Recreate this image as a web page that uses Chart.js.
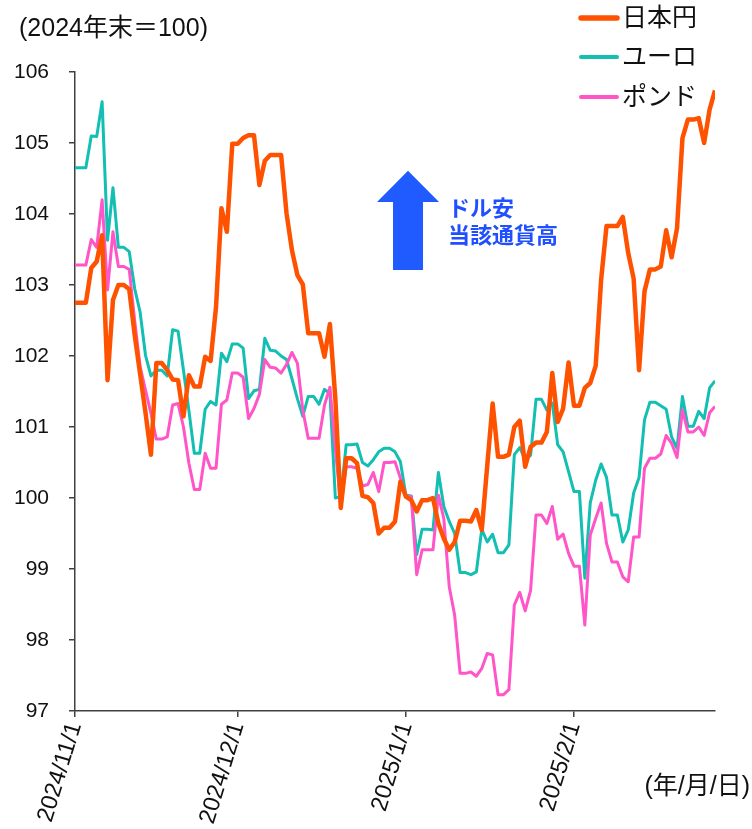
<!DOCTYPE html>
<html>
<head>
<meta charset="utf-8">
<script src="https://cdn.jsdelivr.net/npm/chart.js@4.4.1/dist/chart.umd.min.js"></script>
<style>
  html, body { margin: 0; padding: 0; background: #ffffff; }
  #wrap { width: 752px; height: 829px; position: relative; }
</style>
</head>
<body>
<div id="wrap"><canvas id="c" width="752" height="829"></canvas></div>
<script>
// Daily index values (2024 year-end = 100), one value per calendar day from 2024/11/1.
const startDate = '2024/11/1';
const tickDays = [0, 30, 61, 92];
const tickLabels = ['2024/11/1', '2024/12/1', '2025/1/1', '2025/2/1'];
const seriesNames = ['日本円', 'ユーロ', 'ポンド'];

const jpy = [
  102.75, 102.75, 102.75, 103.24, 103.33, 103.70, 101.66, 102.79, 103.00, 103.00,
  102.94, 102.30, 101.75, 101.20, 100.61, 101.90, 101.90, 101.80, 101.67, 101.66,
  101.15, 101.73, 101.57, 101.57, 101.99, 101.93, 102.69, 104.08, 103.75, 104.99,
  104.99, 105.07, 105.11, 105.11, 104.41, 104.75, 104.83, 104.83, 104.83, 104.01,
  103.49, 103.14, 103.01, 102.32, 102.32, 102.32, 101.99, 102.45, 101.40, 99.86,
  100.56, 100.56, 100.49, 100.03, 100.01, 99.93, 99.50, 99.58, 99.58, 99.67,
  100.23, 100.02, 99.97, 99.81, 99.97, 99.97, 100.00, 99.64, 99.43, 99.27,
  99.38, 99.68, 99.68, 99.67, 99.83, 99.55, 100.45, 101.33, 100.58, 100.58,
  100.61, 101.00, 101.09, 100.44, 100.72, 100.78, 100.78, 100.93, 101.76, 101.07,
  101.26, 101.91, 101.30, 101.30, 101.55, 101.62, 101.86, 103.07, 103.83, 103.83,
  103.83, 103.96, 103.45, 103.09, 101.80, 102.91, 103.22, 103.22, 103.26, 103.77,
  103.39, 103.80, 105.07, 105.33, 105.33, 105.35, 105.00, 105.47, 105.74
];

const eur = [
  104.65, 104.65, 104.65, 105.10, 105.09, 105.58, 103.63, 104.37, 103.53, 103.53,
  103.47, 102.95, 102.62, 102.01, 101.72, 101.80, 101.80, 101.72, 102.37, 102.35,
  101.80, 101.23, 100.63, 100.63, 101.25, 101.36, 101.31, 102.04, 101.92, 102.17,
  102.17, 102.11, 101.40, 101.51, 101.53, 102.25, 102.08, 102.07, 102.00, 101.95,
  101.68, 101.40, 101.15, 101.43, 101.43, 101.32, 101.53, 101.47, 100.00, 100.02,
  100.75, 100.75, 100.76, 100.50, 100.45, 100.54, 100.65, 100.70, 100.70, 100.65,
  100.51, 100.04, 100.03, 99.20, 99.56, 99.56, 99.55, 100.36, 99.88, 99.67,
  99.50, 98.95, 98.95, 98.92, 98.96, 99.56, 99.38, 99.49, 99.23, 99.23,
  99.34, 100.61, 100.71, 100.54, 100.60, 101.39, 101.39, 101.24, 101.34, 100.75,
  100.65, 100.37, 100.09, 100.09, 98.87, 99.93, 100.25, 100.48, 100.29, 99.76,
  99.76, 99.38, 99.55, 100.07, 100.29, 101.10, 101.35, 101.35, 101.30, 101.25,
  100.86, 100.70, 101.43, 101.01, 101.01, 101.22, 101.12, 101.55, 101.65
];

const gbp = [
  103.28, 103.28, 103.28, 103.64, 103.53, 104.20, 102.93, 103.75, 103.26, 103.26,
  103.22, 102.50, 101.85, 101.52, 101.19, 100.83, 100.83, 100.86, 101.31, 101.33,
  101.00, 100.49, 100.12, 100.12, 100.63, 100.42, 100.42, 101.32, 101.38, 101.76,
  101.76, 101.70, 101.12, 101.26, 101.46, 101.95, 101.84, 101.83, 101.76, 101.88,
  102.05, 101.90, 101.24, 100.84, 100.84, 100.84, 101.31, 101.56, 100.70, 99.90,
  100.44, 100.44, 100.42, 100.17, 100.19, 100.36, 100.09, 100.50, 100.50, 100.51,
  100.28, 100.02, 100.02, 98.92, 99.27, 99.27, 99.27, 100.04, 99.71, 98.75,
  98.35, 97.53, 97.53, 97.55, 97.49, 97.60, 97.81, 97.79, 97.23, 97.23,
  97.30, 98.49, 98.67, 98.41, 98.70, 99.76, 99.76, 99.64, 99.88, 99.42,
  99.49, 99.22, 99.04, 99.04, 98.21, 99.48, 99.71, 99.93, 99.36, 99.10,
  99.10, 98.89, 98.82, 99.45, 99.45, 100.42, 100.56, 100.56, 100.62, 100.88,
  100.77, 100.57, 101.24, 100.93, 100.93, 101.00, 100.88, 101.20, 101.29
];

const FONT = '"Liberation Sans", "Noto Sans CJK JP", sans-serif';
const AXIS_COLOR = '#404040';
const colors = ['#FF5200', '#12BFB2', '#FF55C8'];
const widths = [4.5, 3, 3];

const toPoints = arr => arr.map((v, i) => ({ x: i, y: v }));

// Title, unit label, legend and the "dollar weaker" arrow note
const decorations = {
  id: 'decorations',
  afterDraw(chart) {
    const ctx = chart.ctx;
    const xs = chart.scales.x, ys = chart.scales.y;
    ctx.save();

    ctx.fillStyle = '#111';
    ctx.textBaseline = 'middle';
    ctx.textAlign = 'left';
    ctx.font = '25px ' + FONT;
    ctx.fillText('(2024年末＝100)', 19, 29);

    ctx.textAlign = 'right';
    ctx.font = '25px ' + FONT;
    ctx.fillText('(年/月/日)', 750, 787);

    // legend
    const legY = [18, 57, 97];
    ctx.textAlign = 'left';
    ctx.font = '25px ' + FONT;
    chart.data.datasets.forEach((ds, i) => {
      ctx.strokeStyle = ds.borderColor;
      ctx.lineWidth = ds.borderWidth + 1;
      ctx.lineCap = 'round';
      ctx.beginPath();
      ctx.moveTo(581, legY[i]);
      ctx.lineTo(617, legY[i]);
      ctx.stroke();
      ctx.fillStyle = '#111';
      ctx.fillText(ds.label, 622, legY[i] + 1);
    });

    // arrow
    const cx = xs.getPixelForValue(61.4);
    const tip = ys.getPixelForValue(104.61);
    const base = ys.getPixelForValue(104.17);
    const bottom = ys.getPixelForValue(103.21);
    ctx.fillStyle = '#1F5BFF';
    ctx.beginPath();
    ctx.moveTo(cx, tip);
    ctx.lineTo(cx + 31, base);
    ctx.lineTo(cx + 15, base);
    ctx.lineTo(cx + 15, bottom);
    ctx.lineTo(cx - 15, bottom);
    ctx.lineTo(cx - 15, base);
    ctx.lineTo(cx - 31, base);
    ctx.closePath();
    ctx.fill();

    ctx.fillStyle = '#1F4FFF';
    ctx.font = 'bold 22px ' + FONT;
    ctx.textAlign = 'left';
    ctx.fillText('ドル安', cx + 40, tip + 39);
    ctx.fillText('当該通貨高', cx + 40, tip + 66);

    ctx.restore();
  }
};

new Chart(document.getElementById('c'), {
  type: 'line',
  data: {
    datasets: [
      { label: seriesNames[0], data: toPoints(jpy), order: 0 },
      { label: seriesNames[1], data: toPoints(eur), order: 2 },
      { label: seriesNames[2], data: toPoints(gbp), order: 1 }
    ].map((ds, i) => Object.assign(ds, {
      borderColor: colors[i],
      backgroundColor: colors[i],
      borderWidth: widths[i],
      pointRadius: 0,
      tension: 0,
      fill: false,
      borderJoinStyle: 'round',
      borderCapStyle: 'butt'
    }))
  },
  options: {
    responsive: false,
    animation: false,
    devicePixelRatio: 1,
    layout: { padding: { top: 72, right: 37, left: 0, bottom: 0 } },
    plugins: { legend: { display: false }, tooltip: { enabled: false } },
    scales: {
      x: {
        type: 'linear',
        min: 0,
        max: jpy.length - 1,
        afterBuildTicks: s => { s.ticks = tickDays.map(v => ({ value: v })); },
        afterFit: s => { s.height = 118; },
        ticks: {
          autoSkip: false,
          minRotation: 73,
          maxRotation: 73,
          padding: 2,
          color: '#111',
          font: { size: 23.5, family: FONT },
          callback: v => tickLabels[tickDays.indexOf(v)]
        },
        grid: { drawOnChartArea: false, drawTicks: true, tickLength: 6, color: AXIS_COLOR, lineWidth: 1.5 },
        border: { display: true, color: AXIS_COLOR, width: 1.5 }
      },
      y: {
        min: 97,
        max: 106,
        afterFit: s => { s.width = 75; },
        ticks: {
          stepSize: 1,
          padding: 20,
          color: '#111',
          font: { size: 21, family: FONT }
        },
        grid: { drawOnChartArea: false, drawTicks: true, tickLength: 6, color: AXIS_COLOR, lineWidth: 1.5 },
        border: { display: true, color: AXIS_COLOR, width: 1.5 }
      }
    }
  },
  plugins: [decorations]
});
</script>
</body>
</html>
